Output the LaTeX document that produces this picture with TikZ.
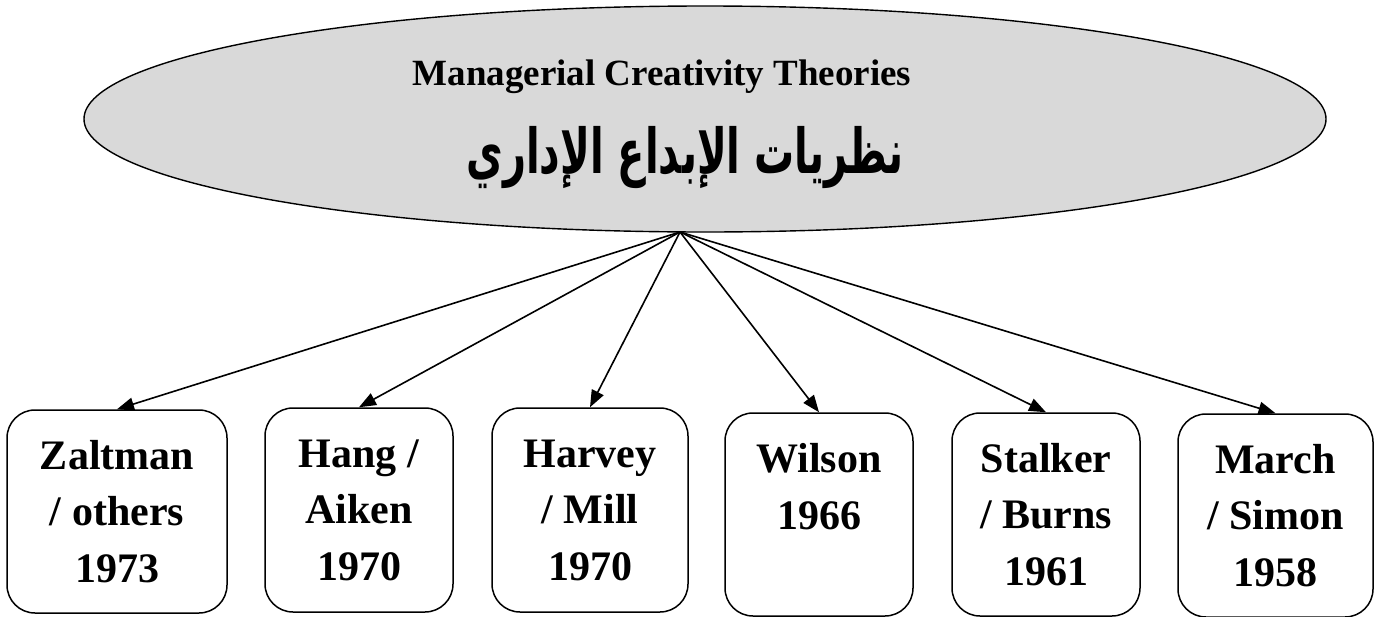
\documentclass[tikz,border=0pt]{standalone}
\usepackage{fontspec}
\setmainfont{Liberation Serif}
\newfontfamily\arabicfont[Script=Arabic,FakeStretch=0.645]{DejaVu Sans}
\TeXXeTstate=1
\usetikzlibrary{shapes.geometric,arrows.meta}
\definecolor{ellgray}{RGB}{217,217,217}
\begin{document}
\begin{tikzpicture}[x=1pt,y=-1pt,
  theorybox/.style={draw=black,line width=1.5pt,rounded corners=28pt,fill=white,
    align=center,inner sep=0pt,font=\bfseries\fontsize{42}{56.5}\selectfont},
  link/.style={line width=1.6pt,-{Triangle[length=17pt,width=13pt]}}]
\useasboundingbox (0,0) rectangle (1384,616);

% central ellipse with the two titles
\node[ellipse,draw=black,line width=1.4pt,fill=ellgray,minimum width=1242pt,
  minimum height=226pt,inner sep=0pt] (root) at (705,119) {};
\node[anchor=base,font=\bfseries\fontsize{37}{42}\selectfont] (title) at (662,85)
  {Managerial Creativity Theories};
\node[anchor=base,font=\arabicfont\bfseries\fontsize{62}{70}\selectfont] (titlear) at (685,173)
  {\beginR نظريات الإبداع الإداري\endR};
\coordinate (apex) at (680,232);

% theory boxes
\node[theorybox,minimum width=220pt,minimum height=203pt] (b1) at (117,511.5)
  {Zaltman\\/ others\\1973};
\node[theorybox,minimum width=188pt,minimum height=204pt] (b2) at (359,510)
  {Hang /\\Aiken\\1970};
\node[theorybox,minimum width=196pt,minimum height=204pt] (b3) at (590,510)
  {Harvey\\/ Mill\\1970};
\node[theorybox,minimum width=188pt,minimum height=203pt] (b4) at (819,514.5)
  {Wilson\\1966\\~};
\node[theorybox,minimum width=188pt,minimum height=203pt] (b5) at (1046,514.5)
  {Stalker\\/ Burns\\1961};
\node[theorybox,minimum width=195pt,minimum height=203pt] (b6) at (1275.5,515.5)
  {March\\/ Simon\\1958};

% connectors
\foreach \b in {b1,b2,b3,b4,b5,b6}
  \draw[link] (apex) -- (\b.north);
\end{tikzpicture}
\end{document}
